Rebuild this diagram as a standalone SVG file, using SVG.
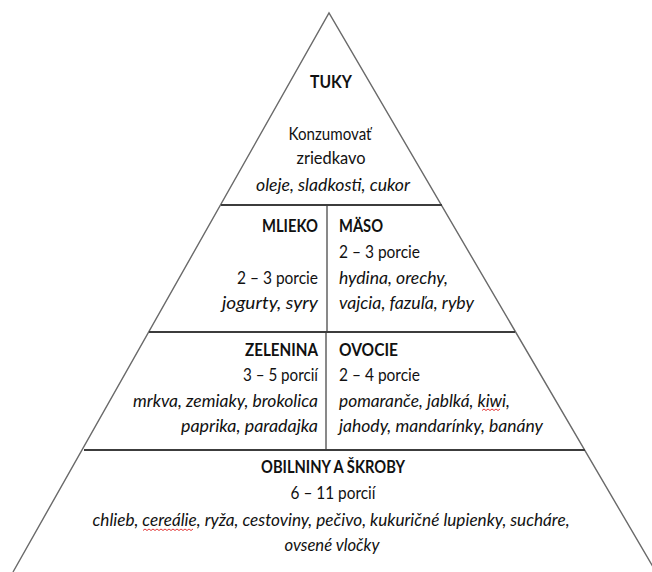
<svg xmlns="http://www.w3.org/2000/svg" width="652" height="572" viewBox="0 0 652 572">
<style>
  .edge{fill:none;stroke:#6a6a6a;stroke-width:1.4}
  .hline{fill:none;stroke:#3c3c3c;stroke-width:2}
  .vline{fill:none;stroke:#4a4a4a;stroke-width:1.3}
  text{font-family:Lato,"Liberation Sans",sans-serif;font-size:16.5px;fill:#111111}
  .b{font-weight:bold}
  .i{font-style:italic}
  .c{text-anchor:middle}
  .r{text-anchor:end}
  .sq{fill:none;stroke:#e02020;stroke-width:0.9}
</style>
<rect width="652" height="572" fill="#ffffff"/>
<g id="lines">
  <polyline class="edge" points="13,572 329,13 656,572"/>
  <line class="hline" x1="221" y1="205" x2="442" y2="205"/>
  <line class="hline" x1="149" y1="332" x2="515" y2="332"/>
  <line class="hline" x1="84" y1="450" x2="585" y2="450"/>
  <line class="vline" x1="327" y1="206" x2="327" y2="331"/>
  <line class="vline" x1="326" y1="333" x2="326" y2="449"/>
</g>
<g id="tuky">
  <text class="b c" x="331" y="88" textLength="42" lengthAdjust="spacingAndGlyphs">TUKY</text>
  <text class="c" x="330" y="140" textLength="83" lengthAdjust="spacingAndGlyphs">Konzumovať</text>
  <text class="c" x="331" y="164" textLength="69" lengthAdjust="spacingAndGlyphs">zriedkavo</text>
  <text class="i c" x="333" y="191" textLength="154" lengthAdjust="spacingAndGlyphs">oleje, sladkosti, cukor</text>
</g>
<g id="mlieko">
  <text class="b r" x="318" y="232" textLength="56" lengthAdjust="spacingAndGlyphs">MLIEKO</text>
  <text class="r" x="318" y="284" textLength="81" lengthAdjust="spacingAndGlyphs">2 – 3 porcie</text>
  <text class="i r" x="318" y="309" textLength="96" lengthAdjust="spacingAndGlyphs">jogurty, syry</text>
</g>
<g id="maso">
  <text class="b" x="339" y="232" textLength="44" lengthAdjust="spacingAndGlyphs">MÄSO</text>
  <text x="339" y="258" textLength="81" lengthAdjust="spacingAndGlyphs">2 – 3 porcie</text>
  <text class="i" x="339" y="284" textLength="109" lengthAdjust="spacingAndGlyphs">hydina, orechy,</text>
  <text class="i" x="339" y="309" textLength="135" lengthAdjust="spacingAndGlyphs">vajcia, fazuľa, ryby</text>
</g>
<g id="zelenina">
  <text class="b r" x="318" y="356" textLength="73" lengthAdjust="spacingAndGlyphs">ZELENINA</text>
  <text class="r" x="318" y="381" textLength="75" lengthAdjust="spacingAndGlyphs">3 – 5 porcií</text>
  <text class="i r" x="318" y="407" textLength="185" lengthAdjust="spacingAndGlyphs">mrkva, zemiaky, brokolica</text>
  <text class="i r" x="318" y="432" textLength="137" lengthAdjust="spacingAndGlyphs">paprika, paradajka</text>
</g>
<g id="ovocie">
  <text class="b" x="339" y="356" textLength="59" lengthAdjust="spacingAndGlyphs">OVOCIE</text>
  <text x="339" y="381" textLength="81" lengthAdjust="spacingAndGlyphs">2 – 4 porcie</text>
  <text class="i" x="339" y="407" textLength="171" lengthAdjust="spacingAndGlyphs">pomaranče, jablká, kiwi,</text>
  <text class="i" x="339" y="432" textLength="204" lengthAdjust="spacingAndGlyphs">jahody, mandarínky, banány</text>
  <path class="sq" d="M482,410.5 l2,-1.5 l2,1.5 l2,-1.5 l2,1.5 l2,-1.5 l2,1.5 l2,-1.5 l2,1.5 l2,-1.5"/>
</g>
<g id="obilniny">
  <text class="b c" x="333" y="473" textLength="144" lengthAdjust="spacingAndGlyphs">OBILNINY A ŠKROBY</text>
  <text class="c" x="333" y="499" textLength="85" lengthAdjust="spacingAndGlyphs">6 – 11 porcií</text>
  <text class="i c" x="331" y="526" textLength="477" lengthAdjust="spacingAndGlyphs">chlieb, cereálie, ryža, cestoviny, pečivo, kukuričné lupienky, sucháre,</text>
  <text class="i c" x="332" y="551" textLength="95" lengthAdjust="spacingAndGlyphs">ovsené vločky</text>
  <path class="sq" d="M143,530.5 l2,-1.5 l2,1.5 l2,-1.5 l2,1.5 l2,-1.5 l2,1.5 l2,-1.5 l2,1.5 l2,-1.5 l2,1.5 l2,-1.5 l2,1.5 l2,-1.5 l2,1.5 l2,-1.5 l2,1.5 l2,-1.5 l2,1.5 l2,-1.5 l2,1.5 l2,-1.5 l2,1.5 l2,-1.5 l2,1.5 l2,-1.5"/>
</g>
</svg>
